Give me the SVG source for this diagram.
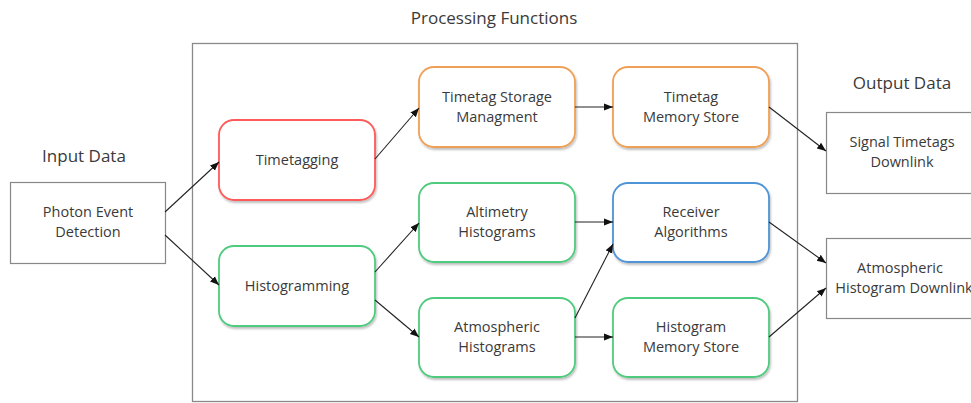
<svg xmlns="http://www.w3.org/2000/svg" width="971" height="403" viewBox="0 0 971 403">
<defs>
<marker id="ah" viewBox="0 0 10 10" refX="10" refY="5" markerWidth="9" markerHeight="9" markerUnits="userSpaceOnUse" orient="auto"><path d="M0,1 L10,5 L0,9 z" fill="#111"/></marker>
<filter id="sh" x="-10%" y="-10%" width="125%" height="130%"><feDropShadow dx="1" dy="2" stdDeviation="1.2" flood-color="#000" flood-opacity="0.25"/></filter>
<style>
text{font-family:"Open Sans","Liberation Sans",sans-serif;font-size:14.5px;fill:#3a3a3a;text-anchor:middle}
.lbl{font-size:17px}
.n{fill:#fff;stroke-width:1.8;filter:url(#sh)}
.red{stroke:#FF5A5A}
.org{stroke:#F0A056}
.grn{stroke:#4FCB7E}
.blu{stroke:#4F94D6}
.box{fill:#fff;stroke:#888;stroke-width:1.2}
.c{fill:none;stroke:#222;stroke-width:1.1;marker-end:url(#ah)}
</style>
</defs>
<rect width="971" height="403" fill="#fff"/>
<g id="frame">
<rect x="192.5" y="43.5" width="605" height="358" fill="none" stroke="#8a8a8a" stroke-width="1.3"/>
<text class="lbl" x="494" y="24">Processing Functions</text>
<text class="lbl" x="84" y="162">Input Data</text>
<text class="lbl" x="902" y="89">Output Data</text>
</g>
<g id="photon"><rect class="box" x="10.5" y="182.5" width="155" height="81"/><text x="88" y="217">Photon Event</text><text x="88" y="237">Detection</text></g>
<g id="timetagging"><rect class="n red" x="219" y="120" width="156" height="80" rx="15"/><text x="297" y="165">Timetagging</text></g>
<g id="histogramming"><rect class="n grn" x="219" y="246" width="156" height="80" rx="15"/><text x="297" y="291">Histogramming</text></g>
<g id="tsm"><rect class="n org" x="419" y="67" width="156" height="80" rx="15"/><text x="497" y="102">Timetag Storage</text><text x="497" y="122">Managment</text></g>
<g id="alt"><rect class="n grn" x="419" y="183" width="156" height="79" rx="15"/><text x="497" y="217">Altimetry</text><text x="497" y="237">Histograms</text></g>
<g id="atm"><rect class="n grn" x="419" y="298" width="156" height="79" rx="15"/><text x="497" y="332">Atmospheric</text><text x="497" y="352">Histograms</text></g>
<g id="tms"><rect class="n org" x="613" y="67" width="156" height="80" rx="15"/><text x="691" y="102">Timetag</text><text x="691" y="122">Memory Store</text></g>
<g id="recv"><rect class="n blu" x="613" y="183" width="156" height="79" rx="15"/><text x="691" y="217">Receiver</text><text x="691" y="237">Algorithms</text></g>
<g id="hms"><rect class="n grn" x="613" y="298" width="156" height="79" rx="15"/><text x="691" y="332">Histogram</text><text x="691" y="352">Memory Store</text></g>
<g id="std"><rect class="box" x="826.5" y="112.5" width="150" height="81"/><text x="902" y="147">Signal Timetags</text><text x="902" y="167">Downlink</text></g>
<g id="ahd"><rect class="box" x="826.5" y="238.5" width="150" height="80"/><text x="900" y="273">Atmospheric</text><text x="904" y="293">Histogram Downlink</text></g>
<g id="connectors">
<line class="c" x1="165" y1="212" x2="219" y2="162"/>
<line class="c" x1="165" y1="235" x2="219" y2="285"/>
<line class="c" x1="375" y1="159" x2="419" y2="108"/>
<line class="c" x1="575" y1="107" x2="613" y2="107"/>
<line class="c" x1="769" y1="107" x2="826" y2="151"/>
<line class="c" x1="375" y1="272" x2="419" y2="223"/>
<line class="c" x1="375" y1="300" x2="419" y2="337"/>
<line class="c" x1="575" y1="222" x2="613" y2="222"/>
<line class="c" x1="575" y1="318" x2="613" y2="244"/>
<line class="c" x1="575" y1="337" x2="613" y2="337"/>
<line class="c" x1="769" y1="222" x2="826" y2="263"/>
<line class="c" x1="769" y1="337" x2="826" y2="288"/>
</g>
</svg>
